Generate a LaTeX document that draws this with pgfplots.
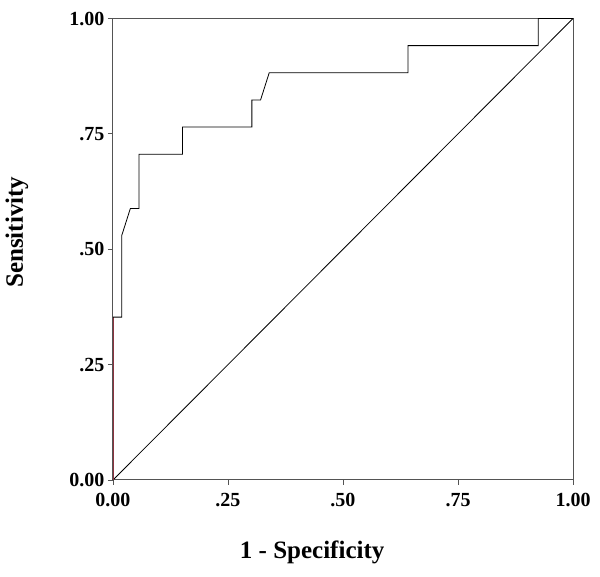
\documentclass[border=0pt]{standalone}
\usepackage{pgfplots}
\pgfplotsset{compat=1.18}
\usepackage{fontspec}
\setmainfont{Liberation Serif}
\definecolor{axgray}{rgb}{0.33,0.33,0.33}
\definecolor{darkred}{rgb}{0.55,0.2,0.25}
\begin{document}
\begin{tikzpicture}
\begin{axis}[
  at={(0,0)}, anchor=south west,
  scale only axis,
  width=460pt, height=461.5pt,
  xmin=0, xmax=1, ymin=0, ymax=1,
  xtick={0,0.25,0.5,0.75,1},
  xticklabels={0.00,.25,.50,.75,1.00},
  ytick={0,0.25,0.5,0.75,1},
  yticklabels={0.00,.25,.50,.75,1.00},
  tick pos=left,
  tick align=outside,
  major tick length=5pt,
  tick style={draw=axgray, line width=0.8pt},
  axis line style={draw=axgray, line width=1pt},
  ticklabel style={font=\fontsize{20}{24}\selectfont\bfseries},
  xticklabel style={yshift=-5pt},
  yticklabel style={xshift=0pt},
  xlabel={1 - Specificity},
  ylabel={Sensitivity},
  label style={font=\fontsize{25}{30}\selectfont\bfseries},
  xlabel style={at={(axis description cs:0.433,-0.156)}, anchor=center},
  ylabel style={at={(axis description cs:-0.209,0.537)}, anchor=center, rotate=0},
  clip=false,
]
\addplot[black, line width=0.8pt] coordinates {(0,0) (1,1)};
\addplot[darkred, line width=0.8pt] coordinates {(0,0) (0,0.3529)};
\addplot[black, line width=0.8pt] coordinates {
(0,0.3529) (0.0189,0.3529) (0.0189,0.5294) (0.0377,0.5882) (0.0566,0.5882)
(0.0566,0.7059) (0.1509,0.7059) (0.1509,0.7647) (0.3019,0.7647) (0.3019,0.8235)
(0.3208,0.8235) (0.3396,0.8824) (0.6415,0.8824) (0.6415,0.9412) (0.9245,0.9412)
(0.9245,1) (1,1)};
\end{axis}
\pgfresetboundingbox
\path[use as bounding box] (-113pt,-97pt) rectangle (487pt,480pt);
\end{tikzpicture}
\end{document}
